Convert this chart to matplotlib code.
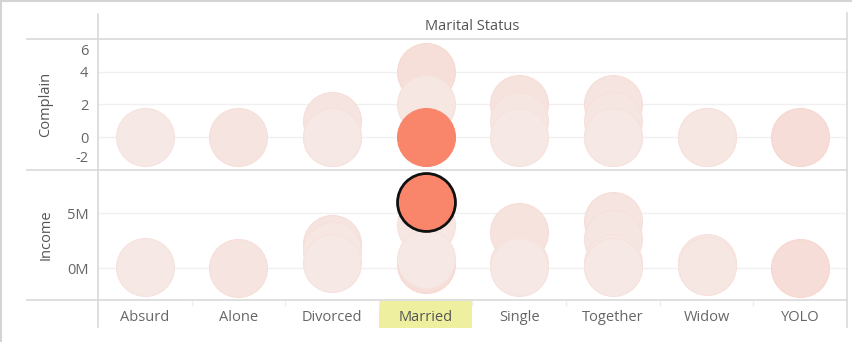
import matplotlib
matplotlib.use("Agg")
import matplotlib.pyplot as plt
import matplotlib.transforms as mtransforms
from matplotlib.colors import LinearSegmentedColormap
from matplotlib.lines import Line2D
from matplotlib.patches import Rectangle
import numpy as np

plt.rcParams["font.family"] = ["Open Sans", "DejaVu Sans"]

# ---- data -------------------------------------------------------------
categories = ["Absurd", "Alone", "Divorced", "Married", "Single",
              "Together", "Widow", "YOLO"]

# one entry per mark (drawn in this order, later marks on top)
mark_status = ["Absurd", "Alone",
               "Divorced", "Divorced", "Divorced",
               "Married", "Married", "Married", "Married",
               "Single", "Single", "Single",
               "Together", "Together", "Together", "Together",
               "Widow", "Widow",
               "YOLO"]
complain = [0, 0,
            1, 0, 0,
            4, 2, 0, 0,
            2, 1, 0,
            2, 1, 0, 0,
            0, 0,
            0]
income_m = [0.1, 0.0,
            2.2, 1.6, 0.5,
            0.4, 3.9, 0.8, 6.0,
            3.3, 0.4, 0.1,
            4.3, 2.7, 0.5, 0.1,
            0.5, 0.2,
            0.0]
intensity = [0.03, 0.07,
             0.07, 0.04, 0.03,
             0.12, 0.04, 0.03, 1.0,
             0.08, 0.05, 0.03,
             0.07, 0.05, 0.04, 0.03,
             0.03, 0.04,
             0.14]
selected_status = "Married"
selected_mark = 8

complain_ticks = [-2, 0, 2, 4, 6]
income_ticks = [0, 5]

# ---- figure -----------------------------------------------------------
W, H = 853, 342
fig = plt.figure(figsize=(W / 100, H / 100), dpi=100)


def fx(x):
    return x / W


def fy(y):
    return 1 - y / H


left, right = 98, 847
top_y0, mid_y, bot_y1 = 39, 170, 300

ax_c = fig.add_axes([fx(left), fy(mid_y), (right - left) / W, (mid_y - top_y0) / H])
ax_i = fig.add_axes([fx(left), fy(bot_y1), (right - left) / W, (bot_y1 - mid_y) / H],
                    sharex=ax_c)

cmap = LinearSegmentedColormap.from_list("oranges", ["#f6ebe8", "#f9866a"])
face = [cmap(v) for v in intensity]
edge = [cmap(min(1.0, v + 0.06)) for v in intensity]

xpos = np.array([categories.index(s) for s in mark_status])
size = 1740

grid_col = "#f0f0f0"
line_col = "#d9d9d9"
txt_col = "#666666"
fs = 10.5

for ax in (ax_c, ax_i):
    for sp in ax.spines.values():
        sp.set_visible(False)
    ax.set_xlim(-0.5, len(categories) - 0.5)
    ax.tick_params(axis="y", length=0, pad=7, labelcolor=txt_col, labelsize=fs)
    ax.set_facecolor("none")

ax_c.set_ylim(-2, 6)
ax_i.set_ylim(-2.9, 8.95)

for t in complain_ticks[1:-1]:
    ax_c.axhline(t, color=grid_col, lw=1, zorder=0)
for t in income_ticks:
    ax_i.axhline(t, color=grid_col, lw=1, zorder=0)

# marks
for k in range(len(complain)):
    ax_c.scatter(xpos[k], complain[k], s=size, color=face[k],
                 edgecolors=[edge[k]], linewidths=0.8, zorder=2 + k * 0.01)
    sel = k == selected_mark
    ax_i.scatter(xpos[k], income_m[k], s=size, color=face[k],
                 edgecolors=["#111111" if sel else edge[k]],
                 linewidths=2.0 if sel else 0.8, zorder=2 + k * 0.01)

# y tick labels (end labels nudged inside the pane)
ax_c.set_yticks(complain_ticks)
ax_c.set_yticklabels([str(t) for t in complain_ticks])
labs = ax_c.get_yticklabels()
labs[-1].set_transform(labs[-1].get_transform() +
                       mtransforms.ScaledTranslation(0, -11 / 100, fig.dpi_scale_trans))
labs[0].set_transform(labs[0].get_transform() +
                      mtransforms.ScaledTranslation(0, 13 / 100, fig.dpi_scale_trans))

ax_i.set_yticks(income_ticks)
ax_i.set_yticklabels([f"{t}M" for t in income_ticks])

# x axis labels with column separators
ax_c.tick_params(axis="x", which="both", length=0, labelbottom=False)
ax_i.set_xticks(range(len(categories)))
ax_i.set_xticklabels(categories)
ax_i.set_xticks(np.arange(len(categories) - 1) + 0.5, minor=True)
ax_i.tick_params(axis="x", which="major", length=0, pad=7.5, labelcolor=txt_col, labelsize=fs)
ax_i.tick_params(axis="x", which="minor", length=4, width=1, color="#efefef")

# highlighted category header
sel_i = categories.index(selected_status)
trans = mtransforms.blended_transform_factory(ax_i.transData, fig.transFigure)
ax_i.add_patch(Rectangle((sel_i - 0.5, fy(328)), 1.0, (328 - 301) / H,
                         transform=trans, facecolor="#eef0a0",
                         edgecolor="none", zorder=0.5, clip_on=False))
ax_i.get_xticklabels()[sel_i].set_color("#555555")


# frame and pane lines
def hline(y, x0, x1, c=line_col, lw=1.2):
    fig.add_artist(Line2D([fx(x0), fx(x1)], [fy(y), fy(y)], color=c, lw=lw,
                          transform=fig.transFigure))


def vline(x, y0, y1, c=line_col, lw=1.2):
    fig.add_artist(Line2D([fx(x), fx(x)], [fy(y0), fy(y1)], color=c, lw=lw,
                          transform=fig.transFigure))


hline(top_y0, 27, right)
hline(mid_y, 27, right)
hline(bot_y1, 27, right)
vline(left, 14, 327)
vline(right, 13, 327)
hline(1, 0, W, c="#d4d4d4", lw=1.5)
vline(1, 0, H, c="#d4d4d4", lw=1.5)

# headers
fig.text(fx((left + right) / 2), fy(26), "Marital Status", ha="center", va="center",
         color="#555555", fontsize=fs)
fig.text(fx(46), fy((top_y0 + mid_y) / 2), "Complain", rotation=90, ha="center",
         va="center", color="#555555", fontsize=fs)
fig.text(fx(46), fy((mid_y + bot_y1) / 2), "Income", rotation=90, ha="center",
         va="center", color="#555555", fontsize=fs)

fig.savefig("out.png", dpi=100)
